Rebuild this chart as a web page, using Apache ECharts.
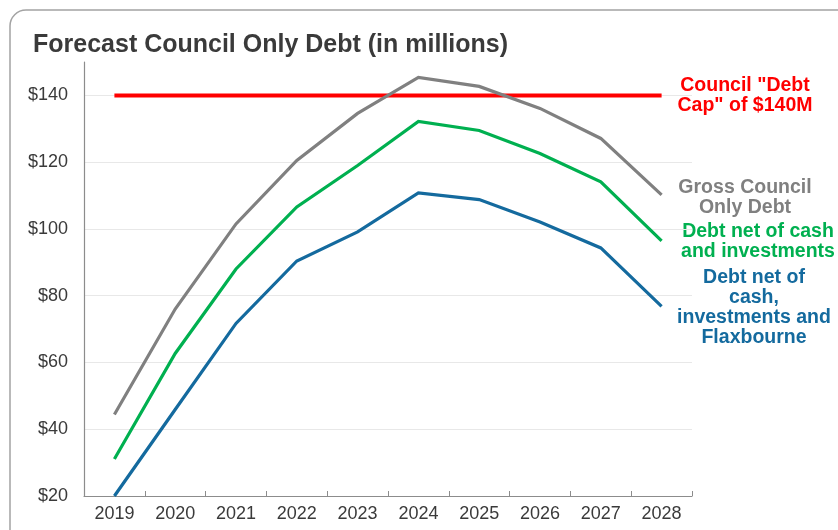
<!DOCTYPE html>
<html>
<head>
<meta charset="utf-8">
<script src="https://cdn.jsdelivr.net/npm/echarts@6/dist/echarts.min.js"></script>
<style>
  html, body { margin: 0; padding: 0; background: #ffffff; }
  #chart { width: 838px; height: 530px; }
</style>
</head>
<body>
<div id="chart"></div>
<script>
// Forecast of council-only debt, $ millions
const years = ['2019', '2020', '2021', '2022', '2023', '2024', '2025', '2026', '2027', '2028'];
const debtCap = [140, 140, 140, 140, 140, 140, 140, 140, 140, 140];
const grossDebt = [44.4, 76, 101.5, 120.5, 134.6, 145.4, 142.7, 136.1, 127.1, 110.2];
const netCashInvest = [31.1, 62.7, 88, 106.6, 119, 132.2, 129.5, 122.6, 114.1, 96.4];
const netCashInvestFlax = [20, 45.9, 71.7, 90.4, 99.1, 110.8, 108.8, 102.1, 94.3, 76.8];

const yMin = 20, yMax = 150, yStep = 20;

const FONT = '"Liberation Sans", Arial, sans-serif';
const RED = '#ff0000', GREY = '#808080', GREEN = '#00b050', BLUE = '#146a9e';

const chart = echarts.init(document.getElementById('chart'));

function lineSeries(name, data, color, width, z) {
  return {
    name: name,
    type: 'line',
    data: data,
    symbol: 'none',
    smooth: false,
    z: z,
    lineStyle: { color: color, width: width, cap: 'butt', join: 'miter' },
    emphasis: { disabled: true }
  };
}

function sideLabel(lines, color, cx, cy) {
  return {
    type: 'text',
    x: cx,
    y: cy,
    style: {
      text: lines.join('\n'),
      fill: color,
      font: 'bold 19.5px ' + FONT,
      lineHeight: 20,
      align: 'center',
      verticalAlign: 'middle'
    }
  };
}

chart.setOption({
  animation: false,
  backgroundColor: '#ffffff',
  title: {
    text: 'Forecast Council Only Debt (in millions)',
    left: 28,
    top: 28,
    textStyle: { fontFamily: FONT, fontWeight: 'bold', fontSize: 25, color: '#3a3a3a' }
  },
  grid: { left: 84, right: 146, top: 62, bottom: 34, containLabel: false },
  xAxis: {
    type: 'category',
    data: years,
    boundaryGap: true,
    axisLine: { show: true, lineStyle: { color: '#8c8c8c', width: 1.2 } },
    axisTick: { show: true, inside: true, length: 5, lineStyle: { color: '#8c8c8c' } },
    axisLabel: { fontFamily: FONT, fontSize: 18, color: '#3a3a3a', margin: 9 },
    splitLine: { show: false }
  },
  yAxis: {
    type: 'value',
    min: yMin,
    max: yMax,
    interval: yStep,
    axisLine: { show: true, lineStyle: { color: '#8c8c8c', width: 1.2 } },
    axisTick: { show: false },
    axisLabel: {
      fontFamily: FONT, fontSize: 18, color: '#3a3a3a', margin: 16,
      showMaxLabel: false,
      formatter: v => (v === yMax ? '' : '$' + v)
    },
    splitLine: { show: true, showMaxLine: false, showMinLine: false, lineStyle: { color: '#e8e8e8', width: 1 } }
  },
  series: [
    lineSeries('Council "Debt Cap" of $140M', debtCap, RED, 4, 2),
    lineSeries('Gross Council Only Debt', grossDebt, GREY, 3.2, 3),
    lineSeries('Debt net of cash and investments', netCashInvest, GREEN, 3.2, 3),
    lineSeries('Debt net of cash, investments and Flaxbourne', netCashInvestFlax, BLUE, 3.2, 3)
  ],
  graphic: [
    {
      type: 'rect',
      shape: { x: 10, y: 10, width: 860, height: 560, r: 16 },
      style: { fill: 'none', stroke: '#a3a3a3', lineWidth: 1.5 },
      silent: true,
      z: 0
    },
    sideLabel(['Council "Debt', 'Cap" of $140M'], RED, 745, 95.5),
    sideLabel(['Gross Council', 'Only Debt'], GREY, 745, 197.5),
    sideLabel(['Debt net of cash', 'and investments'], GREEN, 758, 242),
    sideLabel(['Debt net of', 'cash,', 'investments and', 'Flaxbourne'], BLUE, 754, 307.5)
  ]
});
</script>
</body>
</html>
